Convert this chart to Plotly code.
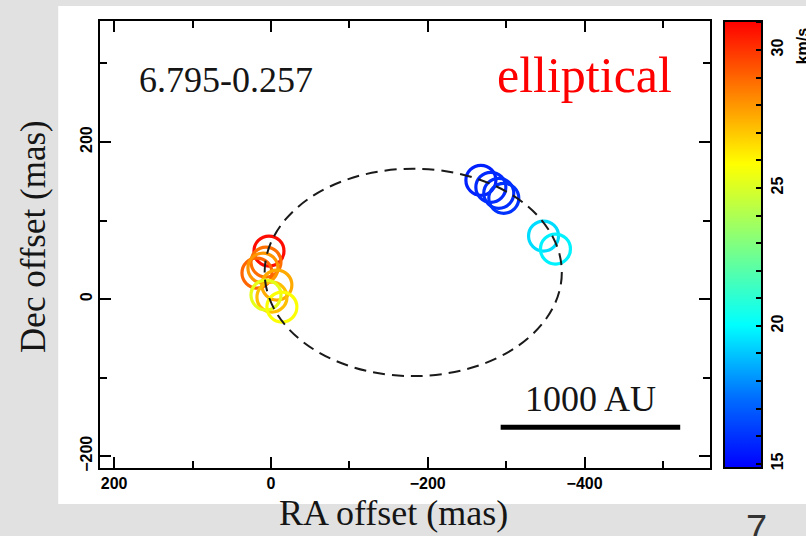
import plotly.graph_objects as go

# Maser spot positions (mas) and LSR velocities (km/s)
ra_offset = [2.5, 6.3, 17.8, 10.2, -7.6, -1.3, 6.3, -14.0,
             -267.8, -280.5, -290.6, -297.0, -347.7, -362.9]
dec_offset = [61.1, 47.1, 33.1, 39.5, 17.8, 2.5, 5.1, -10.2,
              151.2, 142.3, 134.7, 128.3, 80.2, 63.7]
velocity = [30.8, 28.8, 29.0, 28.0, 27.6, 27.2, 25.3, 25.8,
            15.6, 15.8, 15.9, 16.0, 19.4, 19.8]

# fitted ellipse bounding box (mas)
ellipse_ra = [-371, 8]
ellipse_dec = [-98, 166]

# scale bar (mas)
scalebar_ra = [-293, -522]
scalebar_dec = -163

x_ticks = [200, 0, -200, -400]
y_ticks = [200, 0, -200]
cbar_ticks = list(range(15, 32))
cbar_labels = [str(v) if v % 5 == 0 else "" for v in cbar_ticks]

jet = [[0.0, "#0000ff"], [0.16, "#0070ff"], [0.32, "#00ffff"],
       [0.5, "#80ff80"], [0.68, "#ffff00"], [0.84, "#ff8000"],
       [1.0, "#ff0000"]]

serif = "Liberation Serif"
sans = "Liberation Sans"

fig = go.Figure()
fig.add_trace(go.Scatter(
    x=ra_offset, y=dec_offset, mode="markers",
    marker=dict(
        symbol="circle-open", size=30,
        color=velocity, colorscale=jet, cmin=14.85, cmax=31.05,
        line=dict(width=3.2),
        colorbar=dict(
            x=1.0228, xanchor="left", xpad=0, xref="paper",
            y=0.5, yanchor="middle", ypad=0,
            len=1, lenmode="fraction", thickness=38, thicknessmode="pixels",
            outlinewidth=2, outlinecolor="black",
            ticks="inside", ticklen=7, tickwidth=2, tickcolor="black",
            tickvals=cbar_ticks, ticktext=cbar_labels, tickangle=-90,
            tickfont=dict(family=sans, size=16, color="black", weight="bold"),
        ),
    ),
    showlegend=False, hoverinfo="skip",
))

shapes = [
    # white slide panel
    dict(type="rect", xref="paper", yref="paper", x0=-0.0685, x1=1.25,
         y0=-0.0805, y1=1.0336, fillcolor="white", line=dict(width=0),
         layer="below"),
    # ellipse fit
    dict(type="circle", xref="x", yref="y",
         x0=ellipse_ra[0], x1=ellipse_ra[1], y0=ellipse_dec[0], y1=ellipse_dec[1],
         line=dict(color="#1a1a1a", width=2, dash="12px,7px"), layer="above"),
    # scale bar
    dict(type="line", xref="x", yref="y",
         x0=scalebar_ra[0], x1=scalebar_ra[1], y0=scalebar_dec, y1=scalebar_dec,
         line=dict(color="black", width=5)),
]

annotations = [
    dict(text="6.795-0.257", x=57, y=279, xref="x", yref="y", showarrow=False,
         font=dict(family=serif, size=36, color="#151515")),
    dict(text="elliptical", x=-400, y=285, xref="x", yref="y", showarrow=False,
         font=dict(family=serif, size=50, color="#ff0000")),
    dict(text="1000 AU", x=-408, y=-127, xref="x", yref="y", showarrow=False,
         font=dict(family=serif, size=36, color="#151515")),
    dict(text="Dec offset (mas)", x=-0.11, y=0.519, xref="paper", yref="paper",
         xanchor="center", yanchor="middle",
         showarrow=False, textangle=-90,
         font=dict(family=serif, size=35, color="#151515")),
    dict(text="RA offset (mas)", x=0.481, y=-0.150, xref="paper", yref="paper",
         xanchor="center", yanchor="bottom",
         showarrow=False, font=dict(family=serif, size=36, color="#151515")),
    dict(text="km/s", x=1.152, y=0.945, xref="paper", yref="paper",
         xanchor="center", yanchor="middle",
         showarrow=False, textangle=-90,
         font=dict(family=sans, size=16, color="black", weight="bold")),
    dict(text="7", x=1.0767, y=-0.085, xref="paper", yref="paper",
         xanchor="center", yanchor="top", showarrow=False,
         font=dict(family=sans, size=38, color="#333333")),
]

axis_common = dict(
    showline=True, linecolor="black", linewidth=2, mirror="ticks",
    ticks="inside", ticklen=11, tickwidth=2, tickcolor="black",
    showgrid=False, zeroline=False,
    tickfont=dict(family=sans, size=16, color="black", weight="bold"),
    minor=dict(ticks="inside", ticklen=7, tickwidth=2, tickcolor="black",
               dtick=100, showgrid=False),
)

fig.update_layout(
    width=806, height=536,
    margin=dict(l=100, r=93, t=21, b=68),
    paper_bgcolor="#e1e1e1", plot_bgcolor="white",
    xaxis=dict(range=[218, -560], tickvals=x_ticks, **axis_common),
    yaxis=dict(range=[-215, 354], tickvals=y_ticks, tickangle=-90, **axis_common),
    shapes=shapes, annotations=annotations,
)

fig.write_html(
    "out.html",
    config={"displayModeBar": False},
    post_script="document.body.style.margin='0';document.body.style.background='#e1e1e1';",
)
